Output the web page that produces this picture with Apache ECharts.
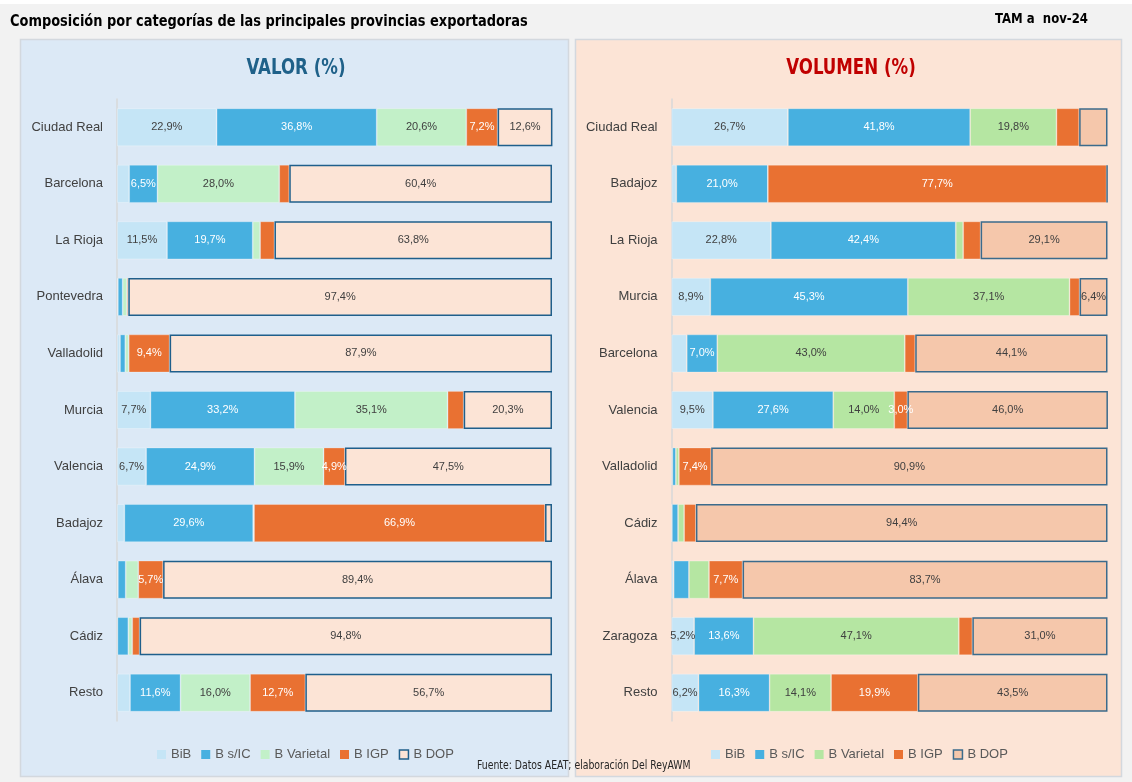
<!DOCTYPE html>
<html><head><meta charset="utf-8">
<script src="https://cdn.jsdelivr.net/npm/echarts@6/dist/echarts.min.js"></script>
<style>html,body{margin:0;padding:0;background:#f2f2f2;}#chart{width:1132px;height:782px;}</style>
</head><body><div id="chart"></div>
<script>
const seriesNames = ['BiB','B s/IC','B Varietal','B IGP','B DOP'];

const categoriesValor = ['Ciudad Real','Barcelona','La Rioja','Pontevedra','Valladolid','Murcia','Valencia','Badajoz','Álava','Cádiz','Resto'];
const bibValor      = [22.9, 2.8, 11.5, 0.2, 0.7,  7.7,  6.7,  1.7, 0.2, 0.1,  3.0];
const bsicValor     = [36.8, 6.5, 19.7, 1.1, 1.2, 33.2, 24.9, 29.6, 1.8, 2.5, 11.6];
const varietalValor = [20.6,28.0,  1.7, 1.0, 0.8, 35.1, 15.9,  0.2, 2.9, 0.9, 16.0];
const igpValor      = [ 7.2, 2.3,  3.3, 0.3, 9.4,  3.7,  4.9, 66.9, 5.7, 1.7, 12.7];
const dopValor      = [12.6,60.4, 63.8,97.4,87.9, 20.3, 47.5,  1.6,89.4,94.8, 56.7];

const categoriesVolumen = ['Ciudad Real','Badajoz','La Rioja','Murcia','Barcelona','Valencia','Valladolid','Cádiz','Álava','Zaragoza','Resto'];
const bibVolumen      = [26.7, 1.1, 22.8,  8.9,  3.5,  9.5, 0.2, 0.1, 0.5,  5.2,  6.2];
const bsicVolumen     = [41.8,21.0, 42.4, 45.3,  7.0, 27.6, 0.8, 1.4, 3.5, 13.6, 16.3];
const varietalVolumen = [19.8, 0.0,  1.7, 37.1, 43.0, 14.0, 0.7, 1.4, 4.6, 47.1, 14.1];
const igpVolumen      = [ 5.2,77.7,  4.0,  2.3,  2.4,  3.0, 7.4, 2.7, 7.7,  3.1, 19.9];
const dopVolumen      = [ 6.5, 0.2, 29.1,  6.4, 44.1, 46.0,90.9,94.4,83.7, 31.0, 43.5];

const labelsHiddenVolumen = [['Ciudad Real','B IGP'],['Ciudad Real','B DOP']];
const labelsShownVolumen = [['Valencia','B IGP']];
const labelsHiddenValor = [];
const labelsShownValor = [];

const LABEL_MIN = 4.8;
const labelColors = ['#404040','#ffffff','#404040','#ffffff','#404040'];
const panelStyles = [
  {colors:['#c5e5f6','#47b0e0','#c2f0c8','#e97132','#fce4d6'], dopBorder:'#1f5f8b'},
  {colors:['#c5e5f6','#47b0e0','#b5e6a2','#e97132','#f5c7ab'], dopBorder:'#3b6b8c'}
];
const panels = [
  {cats:categoriesValor, data:[bibValor,bsicValor,varietalValor,igpValor,dopValor], hidden:labelsHiddenValor, shown:labelsShownValor},
  {cats:categoriesVolumen, data:[bibVolumen,bsicVolumen,varietalVolumen,igpVolumen,dopVolumen], hidden:labelsHiddenVolumen, shown:labelsShownVolumen}
];
const fmt = v => v.toFixed(1).replace('.', ',') + '%';
const has = (list, c, s) => list.some(p => p[0] === c && p[1] === s);

const series = [];
panels.forEach((p, pi) => {
  const st = panelStyles[pi];
  p.data.forEach((arr, si) => {
    const name = seriesNames[si];
    const isDop = si === 4;
    series.push({
      name: name, type: 'bar', stack: 'p' + pi,
      xAxisIndex: pi, yAxisIndex: pi,
      barWidth: 38,
      itemStyle: {color: st.colors[si], borderColor: isDop ? st.dopBorder : 'rgba(255,255,255,0.35)', borderWidth: isDop ? 1.5 : 0.8},
      label: {show: true, position: 'inside', color: labelColors[si], fontSize: 11, fontFamily: 'Liberation Sans, Arial, sans-serif', formatter: d => fmt(d.value)},
      emphasis: {disabled: true},
      data: arr.map((v, ci) => {
        const c = p.cats[ci];
        let show = v >= LABEL_MIN;
        if (has(p.hidden, c, name)) show = false;
        if (has(p.shown, c, name)) show = true;
        return {value: v, label: {show: show}};
      })
    });
  });
});

const gridTop = 99, gridHeight = 622;
function legendFor(pi, left) {
  const st = panelStyles[pi];
  return {
    left: left, top: 743, icon: 'rect', itemWidth: 9, itemHeight: 9, itemGap: 10,
    textStyle: {color: '#595959', fontSize: 13, fontFamily: 'Liberation Sans, Arial, sans-serif'},
    selectedMode: false,
    data: seriesNames.map((n, si) => ({
      name: n,
      itemStyle: si === 4 ? {color: st.colors[si], borderColor: st.dopBorder, borderWidth: 1.5} : {color: st.colors[si], borderWidth: 0}
    }))
  };
}

const narrow = '"DejaVu Sans Condensed", "Liberation Sans", sans-serif';
const chart = echarts.init(document.getElementById('chart'), null, {renderer: 'canvas'});
chart.setOption({
  backgroundColor: '#f2f2f2',
  animation: false,
  graphic: [
    {type: 'rect', z: -10, shape: {x: 0, y: 0, width: 1132, height: 4}, style: {fill: '#ffffff'}},
    {type: 'rect', z: -10, shape: {x: 20.5, y: 39.5, width: 548, height: 737}, style: {fill: '#dce9f6', stroke: '#d3d8de', lineWidth: 1.5}},
    {type: 'rect', z: -10, shape: {x: 575.5, y: 39.5, width: 546, height: 737}, style: {fill: '#fce4d6', stroke: '#d3d8de', lineWidth: 1.5}},
    {type: 'text', z: 5, x: 10, y: 22, scaleX: 0.9, style: {x: 0, y: 0, text: 'Composición por categorías de las principales provincias exportadoras', fill: '#000', font: 'bold 16px ' + narrow, verticalAlign: 'middle'}},
    {type: 'text', z: 5, x: 1088, y: 19, scaleX: 0.93, style: {x: 0, y: 0, text: 'TAM a  nov-24', fill: '#000', font: 'bold 14px ' + narrow, align: 'right', verticalAlign: 'middle'}},
    {type: 'text', z: 5, x: 296, y: 68, scaleX: 0.84, style: {x: 0, y: 0, text: 'VALOR (%)', fill: '#1f6189', font: 'bold 22px ' + narrow, align: 'center', verticalAlign: 'middle'}},
    {type: 'text', z: 5, x: 851, y: 68, scaleX: 0.84, style: {x: 0, y: 0, text: 'VOLUMEN (%)', fill: '#c00000', font: 'bold 22px ' + narrow, align: 'center', verticalAlign: 'middle'}},
    {type: 'text', z: 5, x: 477, y: 766, scaleX: 0.9, style: {x: 0, y: 0, text: 'Fuente: Datos AEAT; elaboración Del ReyAWM', fill: '#262626', font: '11.5px ' + narrow, verticalAlign: 'middle'}}
  ],
  legend: [legendFor(0, 152), legendFor(1, 706)],
  grid: [
    {left: 117, width: 435, top: gridTop, height: gridHeight, containLabel: false},
    {left: 671.5, width: 436, top: gridTop, height: gridHeight, containLabel: false}
  ],
  xAxis: [0, 1].map(i => ({type: 'value', gridIndex: i, min: 0, max: 100, show: false})),
  yAxis: panels.map((p, i) => ({
    type: 'category', gridIndex: i, data: p.cats, inverse: true,
    axisLine: {show: true, lineStyle: {color: '#d9d9d9', width: 1.5}},
    axisTick: {show: false},
    axisLabel: {color: '#404040', fontSize: 13, margin: 14, fontFamily: 'Liberation Sans, Arial, sans-serif'}
  })),
  series: series
});
</script>
</body></html>
